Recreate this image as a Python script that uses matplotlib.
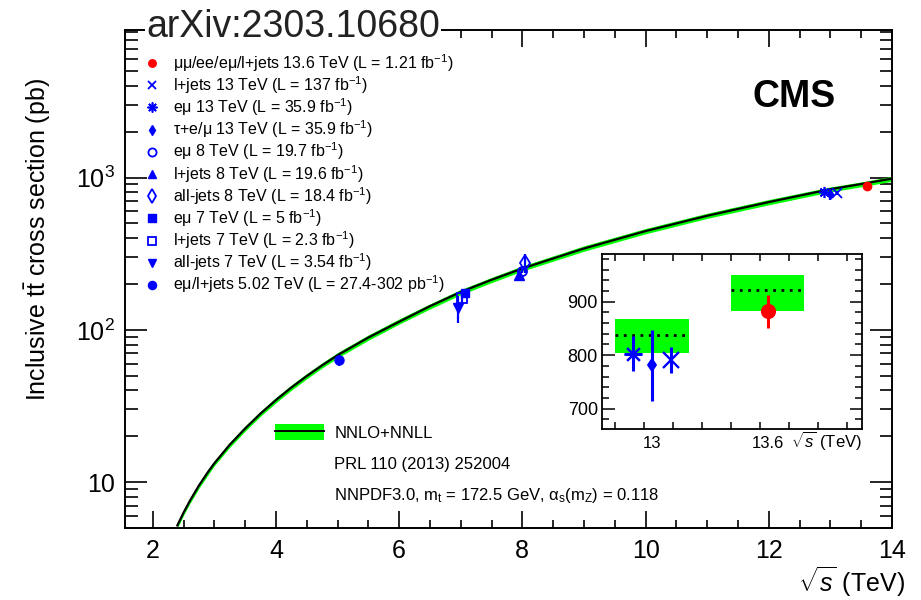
import numpy as np
import matplotlib
matplotlib.use("Agg")
import matplotlib.pyplot as plt
from matplotlib.lines import Line2D
from matplotlib.patches import Patch
from matplotlib.ticker import FixedLocator, MultipleLocator, LogLocator, NullFormatter, FuncFormatter

plt.rcParams["font.family"] = ["Liberation Sans", "DejaVu Sans"]
plt.rcParams["mathtext.fontset"] = "custom"
plt.rcParams["mathtext.rm"] = "Liberation Sans"
plt.rcParams["mathtext.it"] = "Liberation Sans:italic"
plt.rcParams["mathtext.bf"] = "Liberation Sans:bold"

# NNLO+NNLL prediction (pb) vs sqrt(s) (TeV)
theo_x = [2.4, 2.5, 2.6, 2.75, 2.9, 3.0, 3.25, 3.5, 3.75, 4.0, 4.25, 4.5, 4.75, 5.02,
          5.5, 6.0, 6.5, 7.0, 7.5, 8.0, 9.0, 10.0, 11.0, 12.0, 13.0, 13.6, 14.0]
theo_mid = [5.2, 6.3, 7.5, 9.5, 11.7, 13.3, 17.6, 22.5, 28.2, 34.6, 41.8, 49.7, 58.5, 68.9,
            89.0, 113, 143, 177.3, 213, 252.9, 342, 445, 561, 690, 838, 921, 984.5]
theo_hi = [5.4, 6.55, 7.8, 9.9, 12.2, 13.8, 18.3, 23.4, 29.3, 36.0, 43.5, 51.7, 60.8, 71.7,
           92.6, 118, 148, 184, 221, 263, 356, 463, 583, 717, 867, 950, 1020]
theo_lo = [5.0, 6.05, 7.2, 9.1, 11.2, 12.8, 16.9, 21.6, 27.1, 33.2, 40.1, 47.7, 56.2, 66.1,
           85.4, 109, 137, 170, 204, 243, 328, 427, 539, 662, 804, 883, 945]

# CMS measurements
meas_labels = [
    r"μμ/ee/eμ/l+jets 13.6 TeV (L = 1.21 fb$^{-1}$)",
    r"l+jets 13 TeV (L = 137 fb$^{-1}$)",
    r"eμ 13 TeV (L = 35.9 fb$^{-1}$)",
    r"τ+e/μ 13 TeV (L = 35.9 fb$^{-1}$)",
    r"eμ 8 TeV (L = 19.7 fb$^{-1}$)",
    r"l+jets 8 TeV (L = 19.6 fb$^{-1}$)",
    r"all-jets 8 TeV (L = 18.4 fb$^{-1}$)",
    r"eμ 7 TeV (L = 5 fb$^{-1}$)",
    r"l+jets 7 TeV (L = 2.3 fb$^{-1}$)",
    r"all-jets 7 TeV (L = 3.54 fb$^{-1}$)",
    r"eμ/l+jets 5.02 TeV (L = 27.4-302 pb$^{-1}$)",
]
meas_x = [13.6, 13.1, 12.9, 13.0, 8.0, 7.95, 8.05, 7.07, 7.02, 6.96, 5.02]
meas_y = [882, 791, 803, 781, 244.9, 228.5, 275.6, 173.6, 161.7, 139, 63.0]
meas_err = [31, 25, 32, 66, 9.1, 15.5, 38.9, 6.9, 13.9, 28, 5.4]

# prediction at the two recent energies (inset boxes)
inset_x = [13.0, 13.6]
inset_mid = [838, 921]
inset_hi = [867, 950]
inset_lo = [804, 883]

blue = "#0000ff"
red = "#ff0000"
green = "#00ff00"
styles = [
    dict(marker="o", color=red, mfc=red, ms=6),
    dict(marker="x", color=blue, mfc=blue, ms=7, mew=1.3),
    dict(marker=(8, 2, 0), color=blue, mfc=blue, ms=8, mew=1.2),
    dict(marker="d", color=blue, mfc=blue, ms=5.5),
    dict(marker="o", color=blue, mfc="none", ms=6.5, mew=1.3),
    dict(marker="^", color=blue, mfc=blue, ms=6.5),
    dict(marker="d", color=blue, mfc="none", ms=8, mew=1.3),
    dict(marker="s", color=blue, mfc=blue, ms=6),
    dict(marker="s", color=blue, mfc="none", ms=6.5, mew=1.3),
    dict(marker="v", color=blue, mfc=blue, ms=6.5),
    dict(marker="o", color=blue, mfc=blue, ms=6.5),
]
inset_scale = [1.6, 1.6, 1.6, 1.15]

fig = plt.figure(figsize=(9.21, 6.0), dpi=100)
ax = fig.add_axes([125 / 921, 1 - 528 / 600, 767 / 921, 498 / 600])

ax.fill_between(theo_x, theo_lo, theo_hi, color=green, lw=0, zorder=2)
ax.plot(theo_x, theo_mid, color="black", lw=1.6, zorder=3)

for i in range(len(meas_x)):
    st = styles[i]
    ax.errorbar(meas_x[i], meas_y[i], yerr=meas_err[i], fmt="none", ecolor=st["color"],
                elinewidth=1.6, capsize=0, zorder=4)
    ax.plot(meas_x[i], meas_y[i], ls="none", marker=st["marker"], color=st["color"],
            mfc=st["mfc"], mec=st["color"], ms=st["ms"], mew=st.get("mew", 1.0), zorder=5)

ax.set_yscale("log")
ax.set_xlim(1.55, 14)
ax.set_ylim(5, 9300)

ax.xaxis.set_major_locator(MultipleLocator(2))
ax.xaxis.set_minor_locator(MultipleLocator(0.5))
ax.yaxis.set_major_locator(FixedLocator([10, 100, 1000]))
ax.yaxis.set_minor_locator(LogLocator(base=10, subs=np.arange(2, 10)))
ax.yaxis.set_minor_formatter(NullFormatter())

def ylab(v, pos):
    if v == 10:
        return "10"
    return r"$10^{%d}$" % int(round(np.log10(v)))

ax.yaxis.set_major_formatter(FuncFormatter(ylab))
ax.tick_params(which="both", direction="in", top=True, right=True, labelsize=18, width=1.2)
ax.tick_params(axis="x", which="major", length=12, pad=8)
ax.tick_params(axis="x", which="minor", length=6)
ax.tick_params(axis="y", which="major", length=16, pad=7)
ax.tick_params(axis="y", which="minor", length=9)
for sp in ax.spines.values():
    sp.set_linewidth(1.4)

# measurement legend
handles = []
for st in styles:
    handles.append(Line2D([], [], ls="none", marker=st["marker"], color=st["color"],
                          mfc=st["mfc"], mec=st["color"], ms=st["ms"] * 0.9, mew=st.get("mew", 1.0)))
leg1 = ax.legend(handles, meas_labels, loc="upper left", bbox_to_anchor=(144 / 921, 1 - 52 / 600),
                 bbox_transform=fig.transFigure, frameon=False, fontsize=11.5, handlelength=1.0,
                 handletextpad=0.8, labelspacing=0.03, borderpad=0, borderaxespad=0)
ax.add_artist(leg1)

# theory legend
theo_handles = [(Patch(facecolor=green, edgecolor="none"), Line2D([], [], color="black", lw=1.4)),
                Line2D([], [], ls="none"), Line2D([], [], ls="none")]
theo_labels = ["NNLO+NNLL", "PRL 110 (2013) 252004",
               r"NNPDF3.0, m$_{\rm t}$ = 172.5 GeV, α$_{\rm s}$(m$_{\rm Z}$) = 0.118"]
ax.legend(theo_handles, theo_labels, loc="upper left", bbox_to_anchor=(275 / 921, 1 - 424 / 600),
          bbox_transform=fig.transFigure, frameon=False, fontsize=12, handlelength=2.95,
          handleheight=1.1, handletextpad=0.6, labelspacing=0.85, borderpad=0, borderaxespad=0)

fig.text(752 / 921, 1 - 107 / 600, "CMS", fontsize=27, fontweight="bold", va="baseline")
fig.text(146 / 921, 1 - 37 / 600, "arXiv:2303.10680", fontsize=27, color="#222222", va="baseline",
         bbox=dict(facecolor="white", edgecolor="none", pad=1))
fig.text(38 / 921, 1 - 240 / 600, r"Inclusive $\mathrm{t\bar{t}}$ cross section (pb)", fontsize=18,
         rotation=90, ha="center", va="center")
fig.text(905 / 921, 1 - 582 / 600, r"$\sqrt{s}$ (TeV)", fontsize=18, ha="right", va="center")

# zoom on 13 and 13.6 TeV
axi = fig.add_axes([602 / 921, 1 - 429 / 600, 260 / 921, 175 / 600])
axi.bar(inset_x, np.array(inset_hi) - np.array(inset_lo), bottom=inset_lo, width=0.38,
        color=green, lw=0, zorder=1)
axi.hlines(inset_mid, np.array(inset_x) - 0.19, np.array(inset_x) + 0.19, colors="black",
           linestyles=(0, (1, 2)), lw=2, zorder=2)
for i in range(4):
    st = styles[i]
    k = inset_scale[i]
    axi.errorbar(meas_x[i], meas_y[i], yerr=meas_err[i], fmt="none", ecolor=st["color"],
                 elinewidth=2.2, capsize=0, zorder=3)
    axi.plot(meas_x[i], meas_y[i], ls="none", marker=st["marker"], color=st["color"],
             mfc=st["mfc"], mec=st["color"], ms=st["ms"] * k, mew=st.get("mew", 1.0) * 1.3, zorder=4)
axi.set_xlim(12.74, 14.09)
axi.set_ylim(662, 989)
axi.xaxis.set_major_locator(FixedLocator([13.0, 13.6]))
axi.xaxis.set_major_formatter(FuncFormatter(lambda v, p: "%g" % v))
axi.xaxis.set_minor_locator(FixedLocator(np.arange(12.81, 14.09, 0.15)))
axi.yaxis.set_major_locator(MultipleLocator(100))
axi.yaxis.set_minor_locator(MultipleLocator(20))
axi.tick_params(which="both", direction="in", top=True, right=True, width=1.1)
axi.tick_params(axis="x", which="major", length=0, labelsize=12, pad=5)
axi.tick_params(axis="x", which="minor", length=5)
axi.tick_params(axis="y", which="major", length=9, labelsize=13, pad=3)
axi.tick_params(axis="y", which="minor", length=5)
for sp in axi.spines.values():
    sp.set_linewidth(1.3)
fig.text(862 / 921, 1 - 441 / 600, r"$\sqrt{s}$ (TeV)", fontsize=12, ha="right", va="center")

fig.savefig("out.png", dpi=100)
